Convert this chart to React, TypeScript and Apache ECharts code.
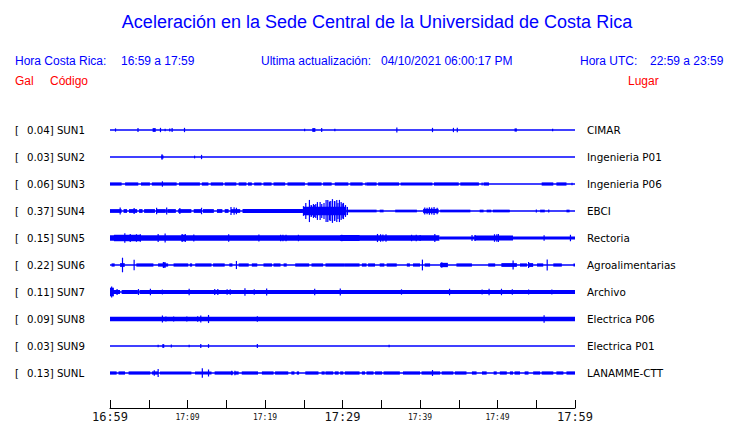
import React, { useEffect, useRef } from 'react';
import * as echarts from 'echarts';

const BLUE = '#0000ff';
const RED = '#ff0000';

// Time axis: minutes after 16:59, labels every 10 minutes
const timeLabels = ['16:59', '17:09', '17:19', '17:29', '17:39', '17:49', '17:59'];
const bigLabels = ['16:59', '17:29', '17:59'];

const codes = ['SUN1', 'SUN2', 'SUN3', 'SUN4', 'SUN5', 'SUN6', 'SUN7', 'SUN8', 'SUN9', 'SUNL'];
const peaks = ['0.04', '0.03', '0.06', '0.37', '0.15', '0.22', '0.11', '0.09', '0.03', '0.13'];
const places = ['CIMAR', 'Ingenieria P01', 'Ingenieria P06', 'EBCI', 'Rectoria', 'Agroalimentarias', 'Archivo', 'Electrica P06', 'Electrica P01', 'LANAMME-CTT'];

// Envelope data.
// bands: [startMin, endMin, half-amplitude (% of trace spacing)]
// spikes: [min, half-amplitude (% of trace spacing)]
const sun1Bands = [[5.5, 5.9, 7], [26.1, 26.5, 7], [52.2, 52.5, 6]];
const sun1Spikes = [[0.7, 6], [3.6, 7], [6.5, 8], [7.1, 5], [7.7, 6], [8.0, 7], [9.6, 8], [25.1, 5], [27.3, 7], [29.0, 5], [37.0, 9], [41.6, 8], [44.3, 8], [44.8, 8], [57.1, 5]];

const sun2Bands = [[6.6, 6.9, 6]];
const sun2Spikes = [[6.7, 10], [10.9, 5], [11.8, 8]];

const sun3Bands = [[0, 1.5, 6], [1.95, 3.65, 6], [4.0, 5.15, 6], [5.4, 8.6, 6], [8.9, 11.6, 6], [11.85, 12.7, 6], [13.0, 14.6, 6], [14.8, 16.3, 6], [16.6, 17.6, 6], [17.8, 18.3, 6], [18.6, 19.55, 6], [19.8, 20.85, 6], [21.1, 22.6, 6], [22.9, 25.15, 6], [25.5, 27.3, 6], [27.5, 28.6, 6], [29.0, 30.75, 6], [31.0, 32.6, 6], [33.1, 34.4, 6], [34.6, 37.3, 6], [37.5, 41.6, 6], [41.8, 45.0, 6], [45.2, 47.6, 6], [48.2, 48.9, 6], [55.7, 57.2, 6], [57.6, 58.9, 6]];
const sun3Spikes = [[6.75, 10], [59.6, 5], [33.0, 6], [48.0, 6]];

const sun4Bands = [[0, 1.5, 7], [1.75, 2.2, 7], [2.45, 3.5, 7], [3.75, 4.2, 7], [4.4, 5.8, 7], [6.0, 7.2, 7], [7.4, 8.5, 7], [8.8, 10.5, 7], [10.8, 11.8, 7], [12.0, 13.4, 7], [13.8, 14.5, 7], [14.8, 15.3, 7], [15.6, 16.8, 7], [17.1, 24.9, 7], [25.0, 30.5, 16], [30.5, 34.4, 5], [34.8, 35.3, 5], [36.8, 39.6, 5], [40.4, 42.4, 8], [42.6, 46.5, 5], [47.7, 48.2, 5], [48.6, 49.2, 5], [49.4, 51.6, 5], [55.5, 56.1, 5], [58.9, 59.3, 5]];
const sun4Spikes = [[1.3, 13], [3.1, 11], [6.0, 12], [7.3, 13], [9.0, 11], [11.8, 12], [15.6, 15], [16.0, 14], [16.3, 12], [24.95, 18], [25.25, 30], [25.72, 41], [25.94, 22], [26.0, 20], [26.24, 26], [26.4, 22], [26.54, 26], [26.75, 33], [27.1, 33], [27.31, 26], [27.6, 30], [27.87, 41], [28.09, 41], [28.3, 35], [28.47, 37], [28.69, 44], [28.95, 37], [29.0, 36], [29.25, 41], [29.4, 30], [29.59, 41], [29.81, 33], [29.95, 28], [30.11, 30], [30.37, 22], [30.62, 15], [40.6, 13], [40.9, 12], [41.2, 14], [41.5, 13], [41.8, 15], [42.2, 12], [55.0, 6], [56.6, 6]];

const sun5Bands = [[0, 42.5, 10], [42.5, 47, 6], [47, 52, 9], [52, 60, 6], [0.5, 4, 12], [9.2, 9.8, 12], [29.7, 32.2, 11]];
const sun5Spikes = [[1.9, 18], [2.6, 15], [3.4, 14], [3.9, 14], [6.2, 15], [7.1, 17], [9.3, 15], [9.7, 15], [10.8, 13], [15.3, 14], [19.2, 13], [22.0, 12], [22.3, 12], [22.7, 12], [24.3, 12], [29.9, 12], [34.5, 15], [34.9, 14], [35.2, 13], [35.6, 14], [38.9, 12], [39.5, 12], [40.0, 11], [41.9, 15], [46.7, 11], [47.1, 11], [49.6, 14], [49.9, 14], [50.1, 15], [56.0, 10], [59.4, 12]];

const sun6Bands = [[0.2, 0.6, 6], [1.3, 1.9, 7], [3.4, 5.6, 6], [6.2, 7.5, 6], [6.8, 7.2, 10], [8.2, 10.1, 6], [10.3, 10.6, 6], [11.0, 13.1, 6], [13.3, 14.8, 6], [15.4, 15.8, 6], [16.6, 17.9, 6], [18.3, 19.0, 6], [19.8, 20.9, 6], [21.1, 22.0, 6], [22.4, 22.8, 6], [23.9, 25.7, 6], [26.0, 27.5, 6], [27.8, 30.3, 6], [30.3, 32.2, 6], [32.5, 33.1, 6], [33.3, 34.2, 6], [34.8, 35.4, 6], [35.7, 37.0, 6], [38.3, 38.7, 6], [39.1, 40.0, 6], [40.6, 41.3, 6], [42.6, 43.6, 8], [44.7, 46.7, 6], [48.8, 49.7, 6], [50.5, 52.5, 7], [52.9, 53.8, 6], [54.0, 54.6, 7], [55.1, 55.9, 6], [57.2, 58.3, 6], [59.8, 60, 6]];
const sun6Spikes = [[1.6, 27], [3.1, 19], [6.9, 11], [16.3, 15], [40.3, 20], [42.8, 10], [52.0, 17], [54.0, 11], [56.4, 20]];

const sun7Bands = [[0, 1.3, 7.5], [1.5, 3.6, 7.5], [3.8, 60, 7.5], [0, 0.5, 16]];
const sun7Spikes = [[0.2, 20], [0.9, 11], [3.66, 11], [5.2, 12], [6.75, 9], [10.2, 12], [13.5, 11], [13.9, 11], [15.1, 10], [15.5, 10], [17.4, 14], [18.6, 10], [20.2, 13], [26.4, 12], [29.7, 13], [37.6, 10], [43.8, 12], [48.0, 9], [48.9, 12], [50.5, 12], [51.9, 10], [54.0, 9], [57.0, 9]];

const sun8Bands = [[0, 60, 8]];
const sun8Spikes = [[6.75, 13], [7.2, 9], [8.2, 9], [9.9, 9], [11.3, 10], [11.7, 13], [12.7, 15], [19.0, 10], [56.0, 14]];

const sun9Bands = [[6.75, 7.0, 7]];
const sun9Spikes = [[6.2, 5], [7.9, 6], [10.2, 5], [11.7, 7], [12.7, 7], [19.0, 7], [36.0, 5]];

const sunlBands = [[0, 0.86, 6], [1.1, 1.94, 6], [2.4, 5.2, 6], [5.4, 6.2, 6], [6.45, 10.5, 6], [10.97, 13.1, 6], [13.5, 15.9, 6], [16.1, 16.6, 6], [17.0, 19.1, 6], [19.6, 21.1, 6], [21.3, 23.0, 6], [23.4, 23.8, 6], [24.1, 24.4, 6], [25.2, 26.9, 6], [27.3, 27.7, 6], [27.8, 28.8, 6], [29.0, 29.5, 6], [29.7, 30.1, 6], [30.3, 32.2, 6], [32.5, 32.9, 6], [33.1, 34.0, 6], [34.2, 35.1, 6], [35.3, 37.4, 6], [37.8, 40.0, 6], [40.2, 42.6, 6], [42.8, 44.3, 6], [44.5, 46.0, 6], [46.7, 47.3, 6], [48.0, 48.6, 6], [49.5, 49.9, 6], [50.3, 51.2, 6], [51.6, 52.0, 6], [52.2, 52.9, 6], [53.5, 54.0, 6], [54.6, 55.5, 6], [55.7, 57.2, 6], [57.6, 58.5, 6], [58.9, 60, 6]];
const sunlSpikes = [[5.7, 10], [6.2, 15], [11.9, 18], [12.7, 13], [15.7, 8], [16.1, 8], [41.6, 11]];

const traces = [
  { bands: sun1Bands, spikes: sun1Spikes },
  { bands: sun2Bands, spikes: sun2Spikes },
  { bands: sun3Bands, spikes: sun3Spikes },
  { bands: sun4Bands, spikes: sun4Spikes },
  { bands: sun5Bands, spikes: sun5Spikes },
  { bands: sun6Bands, spikes: sun6Spikes },
  { bands: sun7Bands, spikes: sun7Spikes },
  { bands: sun8Bands, spikes: sun8Spikes },
  { bands: sun9Bands, spikes: sun9Spikes },
  { bands: sunlBands, spikes: sunlSpikes },
];

export default function App() {
  const ref = useRef<HTMLDivElement>(null);

  useEffect(() => {
    if (!ref.current) return;
    const chart = echarts.init(ref.current, undefined, { renderer: 'svg' });

    const headerFont = '"Liberation Sans", Arial, sans-serif';
    const txt = (text: string, x: number, y: number, size: number, color: string, align = 'left') => ({
      type: 'text',
      x,
      y,
      style: { text, fill: color, font: `${size}px ${headerFont}`, textAlign: align, textVerticalAlign: 'middle' },
    });

    const option: any = {
      animation: false,
      backgroundColor: '#ffffff',
      textStyle: { fontFamily: '"DejaVu Sans", sans-serif' },
      grid: { left: 110, right: 165, top: 116.5, height: 270 },
      xAxis: {
        type: 'value',
        min: 0,
        max: 60,
        interval: 5,
        position: 'bottom',
        offset: 21.5,
        axisLine: { show: true, lineStyle: { color: '#000', width: 1 } },
        axisTick: { show: true, inside: true, length: 8, lineStyle: { color: '#000', width: 1 } },
        splitLine: { show: false },
        axisLabel: {
          margin: 2,
          showMinLabel: true,
          showMaxLabel: true,
          formatter: (v: number) => {
            if (v % 10 !== 0) return '';
            const lab = timeLabels[v / 10];
            return bigLabels.includes(lab) ? `{b|${lab}}` : `{s|${lab}}`;
          },
          rich: {
            b: { fontFamily: '"DejaVu Sans Mono", monospace', fontSize: 12, color: '#111', lineHeight: 14 },
            s: { fontFamily: '"DejaVu Sans Mono", monospace', fontSize: 8, color: '#111', lineHeight: 14 },
          },
        },
      },
      yAxis: [
        {
          type: 'category',
          data: codes,
          inverse: true,
          position: 'left',
          axisLine: { show: false },
          axisTick: { show: false },
          splitLine: { show: false },
          axisLabel: {
            align: 'left',
            margin: 95,
            formatter: (_v: string, i: number) => `{a|[}{b|${peaks[i]}] ${codes[i]}}`,
            rich: {
              a: { width: 12, fontSize: 10.2, color: '#000', fontFamily: '"DejaVu Sans", sans-serif' },
              b: { fontSize: 10.2, color: '#000', fontFamily: '"DejaVu Sans", sans-serif' },
            },
          },
        },
        {
          type: 'category',
          data: places,
          inverse: true,
          position: 'right',
          axisLine: { show: false },
          axisTick: { show: false },
          splitLine: { show: false },
          axisLabel: { margin: 12, fontSize: 10.4, color: '#000', fontFamily: '"DejaVu Sans", sans-serif' },
        },
      ],
      series: [
        {
          type: 'custom',
          yAxisIndex: 0,
          encode: { x: 0, y: 1 },
          data: codes.map((_c, i) => [0, i]),
          renderItem: (params: any, api: any) => {
            const tr = traces[params.dataIndex];
            const row = api.value(1);
            const h = api.size([0, 1])[1];
            const start = api.coord([0, row]);
            const end = api.coord([60, row]);
            const yc = start[1];
            const children: any[] = [
              { type: 'line', shape: { x1: start[0], y1: yc, x2: end[0], y2: yc }, style: { stroke: BLUE, lineWidth: 1.5 } },
            ];
            for (const [s, e, a] of tr.bands) {
              const xs = api.coord([s, row])[0];
              const xe = api.coord([e, row])[0];
              const dy = (a / 100) * h;
              children.push({ type: 'rect', shape: { x: xs, y: yc - dy, width: Math.max(xe - xs, 1), height: 2 * dy }, style: { fill: BLUE } });
            }
            for (const [t, a] of tr.spikes) {
              const x = api.coord([t, row])[0];
              const dy = (a / 100) * h;
              children.push({ type: 'rect', shape: { x: x - 0.5, y: yc - dy, width: 1.2, height: 2 * dy }, style: { fill: BLUE } });
            }
            return { type: 'group', children };
          },
        },
      ],
      graphic: [
        txt('Aceleración en la Sede Central de la Universidad de Costa Rica', 377, 22, 18, BLUE, 'center'),
        txt('Hora Costa Rica:', 15, 61, 12, BLUE),
        txt('16:59 a 17:59', 121, 61, 12, BLUE),
        txt('Ultima actualización:', 261, 61, 12, BLUE),
        txt('04/10/2021 06:00:17 PM', 381, 61, 12, BLUE),
        txt('Hora UTC:', 580, 61, 12, BLUE),
        txt('22:59 a 23:59', 650, 61, 12, BLUE),
        txt('Gal', 15, 81, 12, RED),
        txt('Código', 50, 81, 12, RED),
        txt('Lugar', 628, 81, 12, RED),
      ],
    };

    chart.setOption(option);
    return () => chart.dispose();
  }, []);

  return <div ref={ref} style={{ position: 'fixed', left: 0, top: 0, width: 740, height: 423, background: '#fff' }} />;
}
